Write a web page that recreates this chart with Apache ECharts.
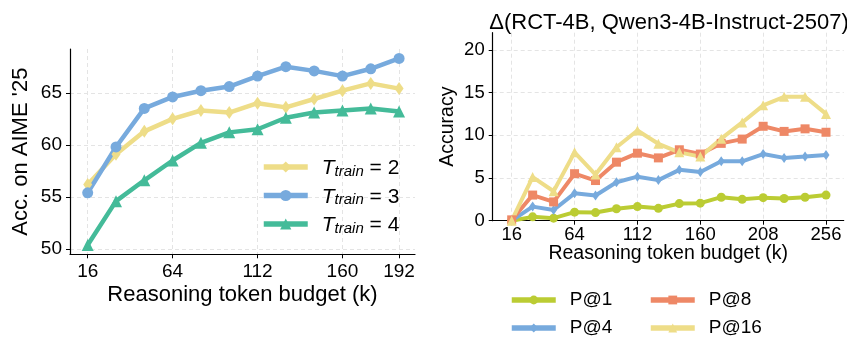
<!DOCTYPE html>
<html>
<head>
<meta charset="utf-8">
<script src="https://cdn.jsdelivr.net/npm/echarts@6/dist/echarts.min.js"></script>
<style>
html,body{margin:0;padding:0;background:#fff;}
#c{width:847px;height:337px;}
</style>
</head>
<body>
<div id="c"></div>
<script>
// ---- data ----
const leftX = [16, 32, 48, 64, 80, 96, 112, 128, 144, 160, 176, 192];
const tTrain2 = [56.2, 59.1, 61.3, 62.5, 63.3, 63.1, 64.0, 63.6, 64.4, 65.2, 65.9, 65.4];
const tTrain3 = [55.4, 59.8, 63.5, 64.6, 65.2, 65.6, 66.6, 67.5, 67.1, 66.6, 67.3, 68.3];
const tTrain4 = [50.4, 54.6, 56.6, 58.5, 60.2, 61.2, 61.5, 62.6, 63.1, 63.3, 63.5, 63.2];
const leftXTicks = [16, 64, 112, 160, 192];
const leftYTicks = [50, 55, 60, 65];

const rightX = [16, 32, 48, 64, 80, 96, 112, 128, 144, 160, 176, 192, 208, 224, 240, 256];
const p1 = [0, 0.45, 0.3, 1.0, 0.95, 1.4, 1.65, 1.45, 2.0, 2.05, 2.75, 2.5, 2.7, 2.6, 2.75, 3.0];
const p4 = [0, 1.65, 1.25, 3.2, 2.95, 4.5, 5.15, 4.75, 5.95, 5.7, 6.95, 6.95, 7.8, 7.35, 7.5, 7.7];
const p8 = [0.1, 3.0, 2.2, 5.5, 4.7, 6.85, 7.9, 7.35, 8.3, 7.8, 9.05, 9.55, 11.05, 10.45, 10.75, 10.35];
const p16 = [0, 5.1, 3.45, 8.0, 5.4, 8.6, 10.55, 9.0, 8.0, 7.5, 9.6, 11.5, 13.5, 14.5, 14.5, 12.5];
const rightXTicks = [16, 64, 112, 160, 208, 256];
const rightYTicks = [0, 5, 10, 15, 20];

const leftNames = ['T_train = 2', 'T_train = 3', 'T_train = 4'];
const rightNames = ['P@1', 'P@4', 'P@8', 'P@16'];

const FONT = '"Liberation Sans", Arial, Helvetica, sans-serif';
const C = {yellow: '#EEDD88', blue: '#77AADD', green: '#44BB99', pear: '#BBCC33', orange: '#EE8866'};

function pairs(xs, ys) { return xs.map((x, i) => [x, ys[i]]); }

const gridLine = {show: true, lineStyle: {color: '#e4e4e4', width: 1, type: [4, 3]}};
function xAxis(gridIndex, min, max, ticks, fs, margin, nameFs, gap) {
  return {
    type: 'value', gridIndex, min, max,
    name: 'Reasoning token budget (k)', nameLocation: 'middle', nameGap: gap, nameMoveOverlap: false,
    nameTextStyle: {fontFamily: FONT, fontSize: nameFs, color: '#000'},
    axisLine: {show: true, onZero: false, lineStyle: {color: '#000', width: 1.2}},
    axisTick: {show: true, length: 4, customValues: ticks, lineStyle: {color: '#000', width: 1}},
    axisLabel: {customValues: ticks, fontFamily: FONT, fontSize: fs, color: '#000', margin},
    splitLine: gridLine
  };
}
function yAxis(gridIndex, min, max, ticks, fs, name, nameFs, gap) {
  return {
    type: 'value', gridIndex, min, max,
    name, nameLocation: 'middle', nameGap: gap, nameMoveOverlap: false,
    nameTextStyle: {fontFamily: FONT, fontSize: nameFs, color: '#000'},
    axisLine: {show: true, onZero: false, lineStyle: {color: '#000', width: 1.2}},
    axisTick: {show: true, length: 4, customValues: ticks, lineStyle: {color: '#000', width: 1}},
    axisLabel: {customValues: ticks, fontFamily: FONT, fontSize: fs, color: '#000', margin: 8},
    splitLine: gridLine
  };
}
function line(name, xi, data, color, symbol, size, width) {
  return {
    name, type: 'line', xAxisIndex: xi, yAxisIndex: xi, data,
    symbol, symbolSize: size, showAllSymbol: true,
    lineStyle: {color, width}, itemStyle: {color},
    emphasis: {disabled: true}, animation: false, z: 3
  };
}
function rightLegend(names, left) {
  return {
    data: names, orient: 'vertical', left, top: 290.5, height: 100, padding: 0,
    itemWidth: 44, itemHeight: 11, itemGap: 9, selectedMode: false,
    lineStyle: {width: 5.5},
    textStyle: {fontFamily: FONT, fontSize: 19, lineHeight: 19, color: '#000', padding: [0, 0, 0, 9]}
  };
}

const chart = echarts.init(document.getElementById('c'), null, {renderer: 'canvas'});
chart.setOption({
  animation: false,
  backgroundColor: '#fff',
  textStyle: {fontFamily: FONT},
  title: {
    text: 'Δ(RCT-4B, Qwen3-4B-Instruct-2507)', left: 664, textAlign: 'center', top: 7,
    textStyle: {fontFamily: FONT, fontSize: 22, fontWeight: 'normal', color: '#000'}
  },
  grid: [
    {left: 70, top: 49, width: 345, height: 205.3},
    {left: 492.7, top: 32.7, width: 351, height: 188}
  ],
  xAxis: [
    xAxis(0, 6, 201, leftXTicks, 19, 8, 22, 30),
    xAxis(1, 1.5, 269.5, rightXTicks, 18.5, 4.5, 19.5, 23)
  ],
  yAxis: [
    yAxis(0, 49.5, 69.2, leftYTicks, 19, "Acc. on AIME '25", 22, 38),
    yAxis(1, 0, 22, rightYTicks, 18.5, 'Accuracy', 19.5, 35.5)
  ],
  legend: [
    {
      data: leftNames, orient: 'vertical', left: 261, top: 158, padding: 0,
      itemWidth: 44, itemHeight: 14, itemGap: 7.5, selectedMode: false,
      lineStyle: {width: 5.5},
      formatter: n => '{it|T}{sub|train}{n| = ' + n.slice(-1) + '}',
      textStyle: {
        fontFamily: FONT, color: '#000', padding: [0, 0, 0, 9],
        rich: {
          it: {fontFamily: FONT, fontSize: 21, fontStyle: 'italic', lineHeight: 24, verticalAlign: 'bottom', color: '#000'},
          sub: {fontFamily: FONT, fontSize: 15, fontStyle: 'italic', lineHeight: 12, verticalAlign: 'bottom', color: '#000'},
          n: {fontFamily: FONT, fontSize: 21, lineHeight: 24, verticalAlign: 'bottom', color: '#000'}
        }
      }
    },
    rightLegend(['P@1', 'P@4'], 509),
    rightLegend(['P@8', 'P@16'], 648)
  ],
  series: [
    line(leftNames[0], 0, pairs(leftX, tTrain2), C.yellow, 'diamond', [9, 13], 4.5),
    line(leftNames[1], 0, pairs(leftX, tTrain3), C.blue, 'circle', 11, 4.5),
    line(leftNames[2], 0, pairs(leftX, tTrain4), C.green, 'triangle', 12, 4.5),
    line(rightNames[0], 1, pairs(rightX, p1), C.pear, 'circle', 9, 4),
    line(rightNames[1], 1, pairs(rightX, p4), C.blue, 'diamond', [7, 10], 4),
    line(rightNames[2], 1, pairs(rightX, p8), C.orange, 'rect', 9, 4),
    line(rightNames[3], 1, pairs(rightX, p16), C.yellow, 'triangle', 10, 4)
  ]
});
</script>
</body>
</html>
